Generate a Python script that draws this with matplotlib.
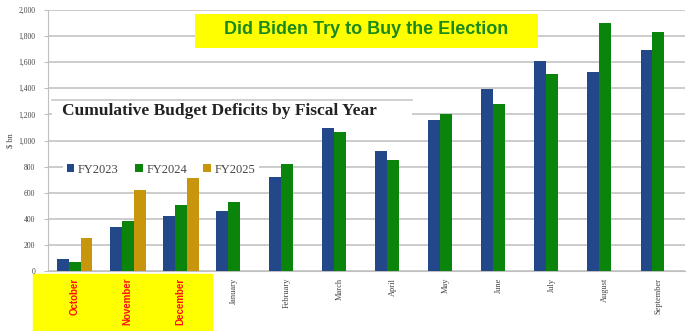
import numpy as np
import matplotlib.pyplot as plt
from matplotlib.patches import Rectangle

# data ($ bn, cumulative)
months = ["October", "November", "December", "January", "February", "March",
          "April", "May", "June", "July", "August", "September"]
fy2023 = [90, 334, 420, 457, 717, 1105, 917, 1156, 1397, 1610, 1523, 1694]
fy2024 = [67, 380, 507, 530, 823, 1065, 848, 1200, 1280, 1513, 1897, 1828]
fy2025 = [254, 620, 710]
yticks = [0, 200, 400, 600, 800, 1000, 1200, 1400, 1600, 1800, 2000]

W, H = 687, 331
fig = plt.figure(figsize=(W / 100, H / 100), dpi=100)
ax = fig.add_axes([48 / W, 60 / H, (685 - 48) / W, (271 - 10) / H])

x = np.arange(len(months))
bw = 0.225
ax.bar(x - bw, fy2023, bw, color="#22488a", label="FY2023", zorder=3)
ax.bar(x, fy2024, bw, color="#0b840b", label="FY2024", zorder=3)
ax.bar(x[:len(fy2025)] + bw, fy2025, bw, color="#c8960c", label="FY2025", zorder=3)

ax.set_xlim(-0.5, 11.5)
ax.set_ylim(0, 2000)
ax.set_yticks(yticks)
ax.set_yticklabels([f"{v:,}" for v in yticks], fontsize=5.5, family="Liberation Serif", color="#444444")
ax.yaxis.grid(True, color="#bfbfbf", lw=1.1, zorder=0)
ax.tick_params(axis="y", length=3, color="#bfbfbf", pad=6)
ax.tick_params(axis="x", length=0, pad=5)
for s in ["top", "right"]:
    ax.spines[s].set_visible(False)
ax.spines["left"].set_color("#bfbfbf")
ax.spines["bottom"].set_color("#bfbfbf")
ax.set_ylabel("$ bn", fontsize=6, family="Liberation Serif", color="#444444", labelpad=3)

ax.set_xticks(x)
ax.set_xticklabels(months, rotation=90, va="top", ha="center")
for i, lab in enumerate(ax.get_xticklabels()):
    if i < 3:
        lab.set_fontfamily("Liberation Sans")
        lab.set_fontweight("bold")
        lab.set_fontsize(7)
        lab.set_color("#ff1010")
    else:
        lab.set_fontfamily("Liberation Serif")
        lab.set_fontsize(6)
        lab.set_color("#444444")

# yellow box behind the first three month labels
fig.patches.append(Rectangle((33 / W, 0), (212 - 33) / W, (331 - 274) / H,
                             transform=fig.transFigure, color="#ffff00", zorder=-1))

# inner chart title panel
fig.patches.append(Rectangle((52 / W, (331 - 128) / H), (412 - 52) / W, 28 / H,
                             transform=fig.transFigure, facecolor="white",
                             edgecolor="none", zorder=1))
fig.add_artist(plt.Line2D([52 / W, 412 / W], [(331 - 100) / H] * 2,
                          color="#c8c8c8", lw=1.2, transform=fig.transFigure, zorder=2))
fig.text(62 / W, (331 - 111) / H, "Cumulative Budget Deficits by Fiscal Year",
         family="Liberation Serif", fontweight="bold", fontsize=12.5,
         color="#222222", va="center", ha="left", zorder=3)

leg = ax.legend(loc="upper left", bbox_to_anchor=(0.014, 0.45), ncol=3,
                frameon=True, fancybox=False, edgecolor="none", framealpha=1,
                prop={"family": "Liberation Serif", "size": 9},
                handlelength=0.6, handleheight=0.6, handletextpad=0.3,
                columnspacing=1.3, borderpad=0.3)
leg.set_zorder(2.5)
for t in leg.get_texts():
    t.set_color("#444444")

# headline box
fig.patches.append(Rectangle((195 / W, (331 - 48) / H), (538 - 195) / W, 34 / H,
                             transform=fig.transFigure, facecolor="#ffff00",
                             edgecolor="none", zorder=4))
fig.text((195 + 538) / 2 / W, (331 - 30) / H, "Did Biden Try to Buy the Election",
         family="Liberation Sans", fontweight="bold", fontsize=13, color="#1a8a1a",
         ha="center", va="center", zorder=5)

fig.savefig("out.png", dpi=100)
